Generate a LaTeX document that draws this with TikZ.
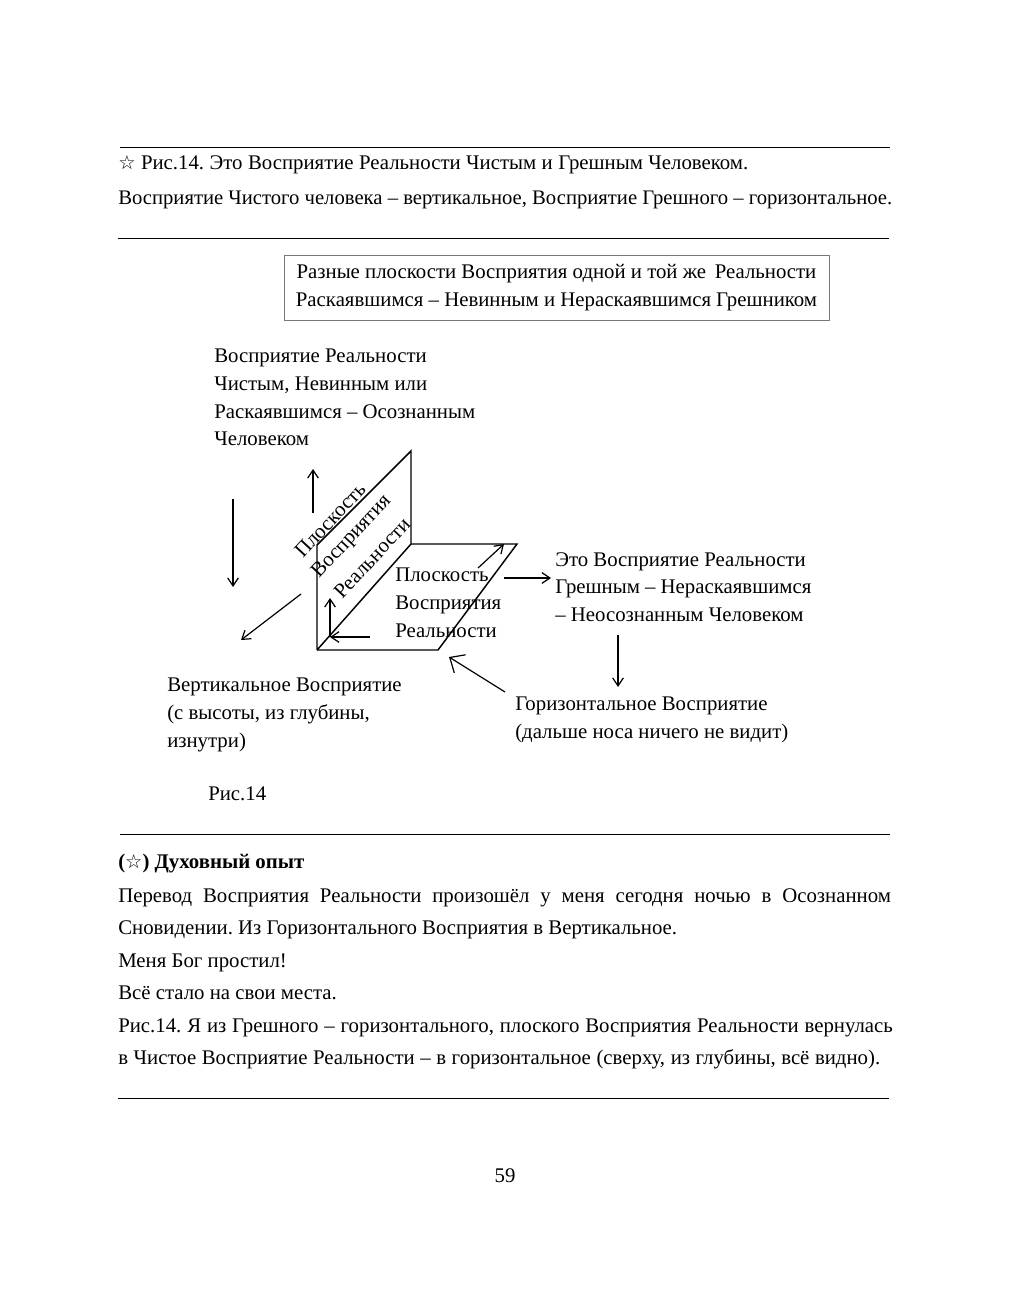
\documentclass[tikz,border=0pt]{standalone}
\usepackage{fontspec}
\setmainfont{Liberation Serif}
\newfontfamily\symfont{DejaVu Sans}
\usetikzlibrary{arrows.meta, positioning}
\definecolor{boxline}{RGB}{120, 120, 120}
\newcommand{\hollowstar}{{\symfont\fontsize{14.5}{14.5}\selectfont ☆}}
\frenchspacing
\begin{document}
\begin{tikzpicture}[
        x=0.75pt, y=-0.75pt,
        pageline/.style={anchor=base west, inner sep=0pt, font=\fontsize{15.6}{20}\selectfont},
        label/.style={anchor=north west, inner sep=0pt, align=left, font=\fontsize{15.6}{20.7}\selectfont},
        planelabel/.style={inner sep=0pt, font=\fontsize{15.6}{20}\selectfont, rotate=47},
        rulerline/.style={line width=0.55pt, black},
        plane/.style={line width=1.1pt, black},
        arrow/.style={line width=0.9pt, -{Straight Barb[length=6pt, width=8pt]}}
    ]
        \useasboundingbox[fill=white] (0,0) rectangle (1022,1294);

        % page text above the figure
        \draw[rulerline] (120,147) -- (890,147);
        \node[pageline] (capone) at (118,170) {\makebox[472.5pt][s]{\hollowstar\ Рис.14. Это Восприятие Реальности Чистым и Грешным Человеком.}};
        \node[pageline, font=\fontsize{15.5}{20}\selectfont] (captwo) at (118,205) {Восприятие Чистого человека – вертикальное, Восприятие Грешного – горизонтальное.};
        \draw[rulerline] (118,238) -- (889,238);

        % title box
        \node[draw=boxline, line width=0.5pt, minimum width=408.75pt, minimum height=48.75pt, inner sep=0pt, align=center,
            font=\fontsize{15.6}{20.8}\selectfont] (title) at (556.5,287.5)
            {Разные плоскости Восприятия одной и той же\, Реальности\\Раскаявшимся – Невинным и Нераскаявшимся Грешником};

        % planes
        \coordinate (low) at (317,650);
        \coordinate (top) at (317,545);
        \coordinate (peak) at (411,451);
        \coordinate (fold) at (411,544);
        \coordinate (far) at (517,544);
        \coordinate (near) at (438,650);
        \draw[plane] (low) -- (top) -- (peak) -- (fold) -- (low);
        \draw[plane] (fold) -- (far) -- (near) -- (low);

        \node[planelabel] (vertone) at (330,520) {Плоскость};
        \node[planelabel] (verttwo) at (352,537) {Восприятия};
        \node[planelabel] (vertthree) at (372,558) {Реальности};
        \node[label] (horiz) at (395,568) {Плоскость\\Восприятия\\Реальности};

        % labels
        \node[label] (clean) at (214,349) {Восприятие Реальности\\Чистым, Невинным или\\Раскаявшимся – Осознанным\\Человеком};
        \node[label] (sinner) at (555,552) {Это Восприятие Реальности\\Грешным – Нераскаявшимся\\– Неосознанным Человеком};
        \node[label] (vertical) at (167,678) {Вертикальное Восприятие\\(с высоты, из глубины,\\изнутри)};
        \node[label] (horizontal) at (515,697) {Горизонтальное Восприятие\\(дальше носа ничего не видит)};
        \node[pageline] (fig) at (208,800) {Рис.14};

        % arrows
        \coordinate (upa) at (313,513);
        \coordinate (upb) at (313,469);
        \coordinate (downa) at (233,499);
        \coordinate (downb) at (233,587);
        \coordinate (diaga) at (301,594);
        \coordinate (diagb) at (241,640);
        \coordinate (inupa) at (330,637);
        \coordinate (inupb) at (330,598);
        \coordinate (inlefta) at (370,637);
        \coordinate (inleftb) at (330,637);
        \coordinate (indiaga) at (478,568);
        \coordinate (indiagb) at (504,544);
        \coordinate (righta) at (504,578);
        \coordinate (rightb) at (551,578);
        \coordinate (sina) at (618,635);
        \coordinate (sinb) at (618,687);
        \coordinate (backa) at (505,692);
        \coordinate (backb) at (449,657);
        \draw[arrow] (upa) -- (upb);
        \draw[arrow] (downa) -- (downb);
        \draw[arrow] (diaga) -- (diagb);
        \draw[arrow] (inupa) -- (inupb);
        \draw[arrow] (inlefta) -- (inleftb);
        \draw[arrow] (indiaga) -- (indiagb);
        \draw[arrow] (righta) -- (rightb);
        \draw[arrow] (sina) -- (sinb);
        \draw[arrow, -{Straight Barb[length=9pt, width=16pt]}] (backa) -- (backb);

        % page text below the figure
        \draw[rulerline] (120,834) -- (890,834);
        \node[pageline, font=\fontsize{15.6}{20}\selectfont\bfseries] (head) at (118,868) {(\hollowstar) Духовный опыт};
        \node[pageline] (parone) at (118,902) {\makebox[579.5pt][s]{Перевод Восприятия Реальности произошёл у меня сегодня ночью в Осознанном}};
        \node[pageline] (partwo) at (118,934) {Сновидении. Из Горизонтального Восприятия в Вертикальное.};
        \node[pageline] (parthree) at (118,967) {Меня Бог простил!};
        \node[pageline] (parfour) at (118,999) {Всё стало на свои места.};
        \node[pageline] (parfive) at (118,1032) {\makebox[581pt][s]{Рис.14. Я из Грешного – горизонтального, плоского Восприятия Реальности вернулась}};
        \node[pageline] (parsix) at (118,1064) {\makebox[571.5pt][s]{в Чистое Восприятие Реальности – в горизонтальное (сверху, из глубины, всё видно).}};
        \draw[rulerline] (118,1098) -- (889,1098);
        \node[pageline, anchor=base] (pagenum) at (505,1182) {59};
    \end{tikzpicture}
\end{document}
